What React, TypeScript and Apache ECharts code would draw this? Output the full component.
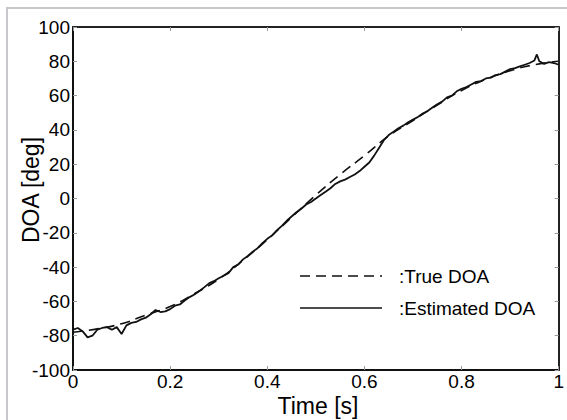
import React, { useEffect, useRef } from "react";
import * as echarts from "echarts";

const trueTime = [0, 0.05, 0.1, 0.15, 0.2, 0.25, 0.3, 0.35, 0.4, 0.45, 0.5, 0.55, 0.6, 0.65, 0.7, 0.75, 0.8, 0.85, 0.9, 0.95, 1.0];
const trueDoa = [-78, -76, -73, -68, -63, -55.5, -47, -36, -24, -11, 2, 14, 25, 36.5, 45.5, 54.5, 63, 69.5, 74.5, 78, 80];

const estTime = [
  0, 0.01, 0.02, 0.03, 0.04, 0.05, 0.06, 0.07, 0.08, 0.09,
  0.1, 0.11, 0.12, 0.13, 0.14, 0.15, 0.16, 0.17, 0.18, 0.19,
  0.2, 0.21, 0.22, 0.23, 0.24, 0.25, 0.26, 0.27, 0.28, 0.29,
  0.3, 0.31, 0.32, 0.33, 0.34, 0.35, 0.36, 0.37, 0.38, 0.39,
  0.4, 0.41, 0.42, 0.43, 0.44, 0.45, 0.46, 0.47, 0.48, 0.49,
  0.5, 0.51, 0.52, 0.53, 0.54, 0.55, 0.56, 0.57, 0.58, 0.59,
  0.6, 0.61, 0.62, 0.63, 0.64, 0.65, 0.66, 0.67, 0.68, 0.69,
  0.7, 0.71, 0.72, 0.73, 0.74, 0.75, 0.76, 0.77, 0.78, 0.79,
  0.8, 0.81, 0.82, 0.83, 0.84, 0.85, 0.86, 0.87, 0.88, 0.89,
  0.9, 0.91, 0.92, 0.93, 0.94, 0.95, 0.955, 0.96, 0.97, 0.98, 0.99, 1.0,
];
const estDoa = [
  -76.5, -75.5, -77.5, -81, -80, -76.5, -75.5, -75, -76.5, -75,
  -79, -74, -72.5, -72, -70.5, -69.5, -67.5, -65, -66.2, -65.8,
  -64.5, -62.5, -61.8, -59.5, -57.5, -56, -54, -51.8, -49.5, -48.2,
  -46.5, -45, -43.5, -40, -38.5, -35.5, -33.5, -31, -29, -26,
  -23.5, -21.5, -18.5, -16, -13, -10.5, -8, -6, -3.5, -2,
  0, 2, 4, 6, 8.5, 10, 11, 12.5, 14, 16,
  18.5, 21, 25, 29.5, 34, 37, 39, 41, 42.5, 44.5,
  46, 47.5, 49.5, 51, 53, 55, 56.5, 59, 60, 62.5,
  64, 65, 66.5, 68, 68.5, 70, 70.5, 72, 72.5, 74,
  75.5, 76, 77, 78, 79, 80.5, 84, 80, 78.5, 79.5, 79, 78,
];

const xTicks = [0, 0.2, 0.4, 0.6, 0.8, 1];
const yTicks = [-100, -80, -60, -40, -20, 0, 20, 40, 60, 80, 100];
const legendNames = [":True DOA", ":Estimated DOA"];

export default function App() {
  const ref = useRef<HTMLDivElement>(null);
  useEffect(() => {
    if (!ref.current) return;
    const chart = echarts.init(ref.current, null, { renderer: "svg" });
    const font = "'Liberation Sans', Arial, sans-serif";
    const tickStyle = { show: true, inside: true, length: 4, lineStyle: { color: "#999", width: 1 } };
    chart.setOption({
      animation: false,
      backgroundColor: "#ffffff",
      grid: { left: 73, top: 27, right: 7, bottom: 50 },
      xAxis: [
        {
          type: "value", min: xTicks[0], max: xTicks[xTicks.length - 1], interval: 0.2,
          axisLine: { onZero: false, lineStyle: { color: "#111", width: 2 } },
          axisTick: tickStyle,
          splitLine: { show: false },
          axisLabel: { fontFamily: font, fontSize: 19, color: "#000", margin: 2,
            formatter: (v: number) => (v === 0 ? "0" : v === 1 ? "1" : v.toFixed(1)) },
        },
        {
          type: "value", position: "top", min: xTicks[0], max: xTicks[xTicks.length - 1], interval: 0.2,
          axisLine: { show: true, onZero: false, lineStyle: { color: "#222", width: 2 } },
          axisTick: tickStyle, axisLabel: { show: false }, splitLine: { show: false },
        },
      ],
      yAxis: [
        {
          type: "value", min: yTicks[0], max: yTicks[yTicks.length - 1], interval: 20,
          axisLine: { show: true, onZero: false, lineStyle: { color: "#111", width: 2 } },
          axisTick: tickStyle,
          splitLine: { show: false },
          axisLabel: { fontFamily: font, fontSize: 19, color: "#000", margin: 3 },
        },
        {
          type: "value", position: "right", min: yTicks[0], max: yTicks[yTicks.length - 1], interval: 20,
          axisLine: { show: true, onZero: false, lineStyle: { color: "#222", width: 2 } },
          axisTick: tickStyle, axisLabel: { show: false }, splitLine: { show: false },
        },
      ],
      graphic: [
        { type: "rect", silent: true, shape: { x: 7, y: 8, width: 700, height: 600 }, style: { fill: "none", stroke: "#c8c8cc", lineWidth: 2 } },
        { type: "text", x: 31, y: 190, rotation: Math.PI / 2, style: { text: "DOA [deg]", fontFamily: font, fontSize: 23, fill: "#000", align: "center", verticalAlign: "middle" } },
        { type: "text", x: 318, y: 406, style: { text: "Time [s]", fontFamily: font, fontSize: 23, fill: "#000", align: "center", verticalAlign: "middle" } },
        { type: "line", shape: { x1: 300, y1: 276, x2: 382, y2: 276 }, style: { stroke: "#111", lineWidth: 1.5, lineDash: [10, 6] } },
        { type: "text", x: 399, y: 276, style: { text: legendNames[0], fontFamily: font, fontSize: 19, fill: "#000", align: "left", verticalAlign: "middle" } },
        { type: "line", shape: { x1: 300, y1: 308, x2: 382, y2: 308 }, style: { stroke: "#111", lineWidth: 1.5 } },
        { type: "text", x: 399, y: 308, style: { text: legendNames[1], fontFamily: font, fontSize: 19, fill: "#000", align: "left", verticalAlign: "middle" } },
      ],
      series: [
        {
          name: "True DOA", type: "line", smooth: true, symbol: "none",
          lineStyle: { color: "#111", width: 1.6, type: [10, 6] },
          data: trueTime.map((t, i) => [t, trueDoa[i]]),
          z: 3,
        },
        {
          name: "Estimated DOA", type: "line", symbol: "none",
          lineStyle: { color: "#111", width: 1.8 },
          data: estTime.map((t, i) => [t, estDoa[i]]),
          z: 4,
        },
      ],
    });
    return () => chart.dispose();
  }, []);
  return <div ref={ref} style={{ width: 567, height: 420, position: "absolute", left: 0, top: 0 }} />;
}
